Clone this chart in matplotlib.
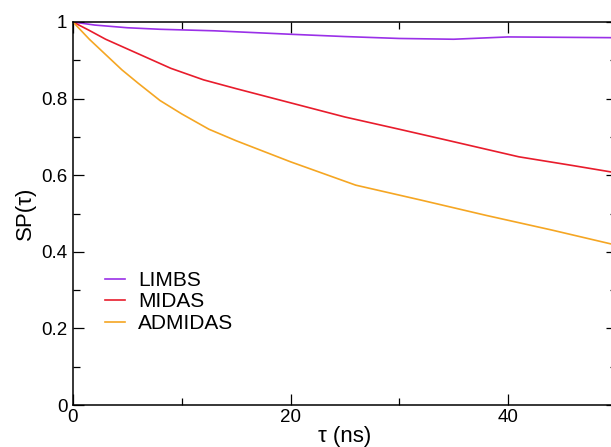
import matplotlib
matplotlib.use("Agg")
import matplotlib.pyplot as plt
from matplotlib.ticker import MultipleLocator, FuncFormatter

plt.rcParams['font.family'] = ['Liberation Sans', 'DejaVu Sans']

# tau (ns) and SP(tau)
limbs_x = [0, 2, 5, 8, 13, 20, 25, 30, 35, 40, 45, 50]
limbs_y = [1.0, 0.992, 0.985, 0.981, 0.977, 0.968, 0.962, 0.957, 0.955, 0.961, 0.960, 0.959]

midas_x = [0, 1.5, 3, 6, 9, 12, 15, 20, 25, 30, 34, 41, 46, 50]
midas_y = [1.0, 0.978, 0.955, 0.917, 0.879, 0.849, 0.826, 0.789, 0.752, 0.72, 0.694, 0.648, 0.625, 0.606]

admidas_x = [0, 1.5, 3, 4.5, 6, 8, 10, 12.5, 15, 20, 26, 32, 38, 44, 50]
admidas_y = [1.0, 0.955, 0.915, 0.875, 0.84, 0.795, 0.76, 0.72, 0.69, 0.635, 0.574, 0.535, 0.495, 0.457, 0.417]

labels = ["LIMBS", "MIDAS", "ADMIDAS"]
colors = ["#9a30e8", "#e81c2c", "#f5a623"]

fig = plt.figure(figsize=(6.11, 4.47), dpi=100)
ax = fig.add_axes([73 / 611, 1 - 405 / 447, 543.75 / 611, 383 / 447])

ax.plot(limbs_x, limbs_y, color=colors[0], lw=1.2, label=labels[0])
ax.plot(midas_x, midas_y, color=colors[1], lw=1.2, label=labels[1])
ax.plot(admidas_x, admidas_y, color=colors[2], lw=1.2, label=labels[2])

ax.set_xlim(0, 50)
ax.set_ylim(0, 1)
ax.xaxis.set_major_locator(MultipleLocator(20))
ax.xaxis.set_minor_locator(MultipleLocator(10))
ax.yaxis.set_major_locator(MultipleLocator(0.2))
ax.yaxis.set_minor_locator(MultipleLocator(0.1))
ax.yaxis.set_major_formatter(FuncFormatter(lambda v, p: f"{v:g}"))

ax.tick_params(which='both', direction='in', top=True, right=True, width=0.9, labelsize=13.5)
ax.tick_params(which='major', length=8)
ax.tick_params(which='minor', length=5)
ax.tick_params(axis='y', pad=4)
ax.tick_params(axis='x', pad=3)
for s in ax.spines.values():
    s.set_linewidth(1.1)

ax.set_xlabel("τ (ns)", fontsize=16, labelpad=0)
ax.set_ylabel("SP(τ)", fontsize=16, labelpad=4)

ax.legend(loc='upper left', bbox_to_anchor=(0.059, 0.35), frameon=False,
          fontsize=15, handlelength=0.98, handletextpad=0.6, labelspacing=0.12,
          borderpad=0, borderaxespad=0)

fig.savefig("out.png", dpi=100)
